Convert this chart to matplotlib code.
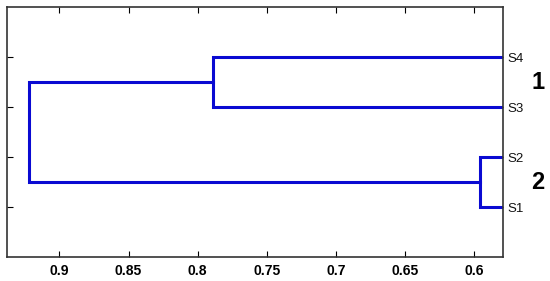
import matplotlib
matplotlib.use("Agg")
import matplotlib.pyplot as plt

plt.rcParams['font.family'] = ['Liberation Sans', 'DejaVu Sans']

# leaf names in plotting order (bottom to top) and their positions
leaves = ['S1', 'S2', 'S3', 'S4']
leaf_pos = [1, 2, 3, 4]
leaf_height = 0.575   # leaves sit beyond the right edge of the view

# merges: (left child, right child, distance); children are leaf index or 'cN'
merges = [(0, 1, 0.5957),
          (2, 3, 0.789),
          ('c0', 'c1', 0.922)]

cluster_names = ['1', '2']
cluster_pos = [3.5, 1.5]

xticks = [0.9, 0.85, 0.8, 0.75, 0.7, 0.65, 0.6]
xlim = (0.938, 0.579)

fig = plt.figure(figsize=(5.5, 2.81), dpi=100)
ax = fig.add_axes([0.0127, 0.085, 0.902, 0.89])

col = '#0a0ad2'
node_y = {}
node_h = {}
for i, p in enumerate(leaf_pos):
    node_y[i] = p
    node_h[i] = leaf_height

for k, (a, b, h) in enumerate(merges):
    ya, yb = node_y[a], node_y[b]
    ax.plot([node_h[a], h, h, node_h[b]], [ya, ya, yb, yb], color=col, lw=2.2,
            solid_joinstyle='miter', clip_on=True)
    node_y['c%d' % k] = (ya + yb) / 2.0
    node_h['c%d' % k] = h

ax.set_xlim(*xlim)
ax.set_ylim(0, 5)
ax.set_xticks(xticks)
ax.set_xticklabels([('%g' % t) for t in xticks], fontsize=10, fontweight='bold')
ax.yaxis.tick_right()
ax.set_yticks(leaf_pos)
ax.set_yticklabels(leaves, fontsize=9.5, color='#111111')
ax.tick_params(axis='both', direction='in', length=4, width=0.8, top=True, left=True, right=True)
ax.tick_params(axis='y', pad=3)
ax.tick_params(axis='x', pad=5)
for s in ax.spines.values():
    s.set_linewidth(1.2)
    s.set_color('#333333')

for name, y in zip(cluster_names, cluster_pos):
    ax.annotate(name, xy=(1.0, y), xycoords=('axes fraction', 'data'),
                xytext=(25, 0), textcoords='offset points', ha='center', va='center',
                fontsize=17, fontweight='bold')

fig.savefig('out.png', dpi=100)
